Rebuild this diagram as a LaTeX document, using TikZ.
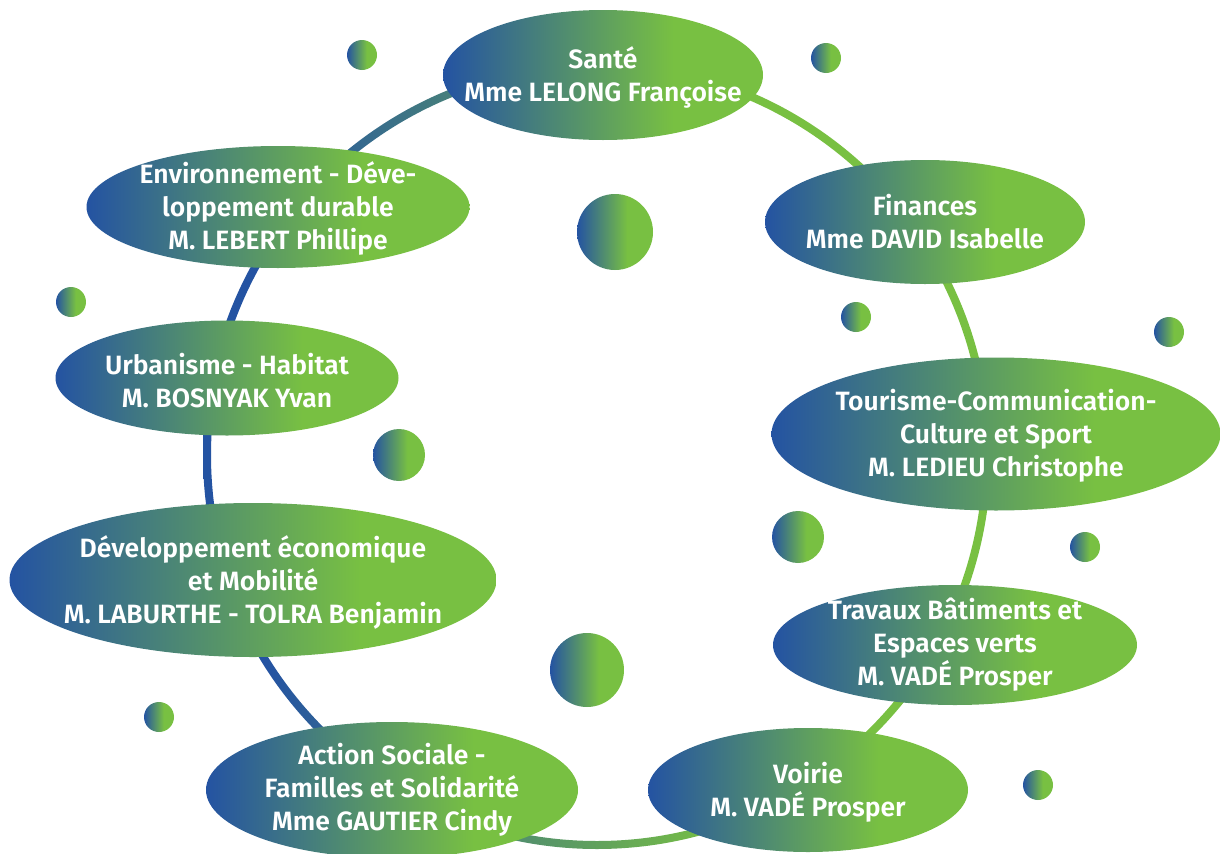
\documentclass[tikz,border=0pt]{standalone}
\usepackage{fontspec}
\setmainfont{Fira Sans}[BoldFont={Fira Sans SemiBold}]
\usetikzlibrary{shapes.geometric}
\definecolor{myblue}{RGB}{36,83,162}
\definecolor{mygreen}{RGB}{120,192,66}
\pgfdeclarehorizontalshading{ellsh}{100bp}{color(0bp)=(myblue); color(25bp)=(myblue); color(61bp)=(mygreen); color(100bp)=(mygreen)}
\pgfdeclarehorizontalshading{bubsh}{100bp}{color(0bp)=(myblue); color(25bp)=(myblue); color(58bp)=(mygreen); color(100bp)=(mygreen)}
\pgfdeclarehorizontalshading{ringsh}{100bp}{color(0bp)=(myblue); color(29bp)=(myblue); color(58bp)=(mygreen); color(100bp)=(mygreen)}
\tikzset{
  ell/.style={ellipse, shade, shading=ellsh, inner sep=0pt, outer sep=0pt},
  elltext/.style={inner sep=0pt, text=white, align=center,
    font=\fontsize{26.5}{33}\selectfont\bfseries},
  bubble/.style={shade, shading=bubsh}
}
\begin{document}
\begin{tikzpicture}[x=1pt,y=-1pt]
\useasboundingbox (0,0) rectangle (1221,854);
% ring
\coordinate (rc) at (597,455);
\shade[shading=ringsh, even odd rule] (rc) circle (394pt) (rc) circle (386pt);
% bubbles
\foreach \x/\y/\r [count=\i] in {362/55/15, 826/58/15, 615/232/38, 71/302/15, 856/317/15, 1169/332/15, 399/455/26, 798/537/26, 1085/547/15, 587/670/37, 159/717/15, 1038/785/15}
  \shade[bubble] (\x,\y) circle (\r pt);
% ellipses
\node[ell, minimum width=320pt, minimum height=130pt] (sante) at (603,75) {};
\node[elltext] (santeT) at ([yshift=-2pt]sante.center) {Santé\\Mme LELONG Françoise};
\node[ell, minimum width=320pt, minimum height=124pt] (fin) at (925,222) {};
\node[elltext] (finT) at (fin.center) {Finances\\Mme DAVID Isabelle};
\node[ell, minimum width=449pt, minimum height=153pt] (tour) at (996,434) {};
\node[elltext] (tourT) at ([yshift=-2pt]tour.center) {Tourisme-Communication-\\Culture et Sport\\M. LEDIEU Christophe};
\node[ell, minimum width=364pt, minimum height=120pt] (trav) at (955,645) {};
\node[elltext] (travT) at (trav.center) {Travaux Bâtiments et\\Espaces verts\\M. VADÉ Prosper};
\node[ell, minimum width=320pt, minimum height=124pt] (voirie) at (808,790) {};
\node[elltext] (voirieT) at ([yshift=-2pt]voirie.center) {Voirie\\M. VADÉ Prosper};
\node[ell, minimum width=372pt, minimum height=136pt] (action) at (392,790) {};
\node[elltext] (actionT) at (action.center) {Action Sociale -\\Familles et Solidarité\\Mme GAUTIER Cindy};
\node[ell, minimum width=487pt, minimum height=154pt] (dev) at (253,580) {};
\node[elltext] (devT) at ([yshift=-2pt]dev.center) {Développement économique\\et Mobilité\\M. LABURTHE - TOLRA Benjamin};
\node[ell, minimum width=343pt, minimum height=115pt] (urb) at (227,378) {};
\node[elltext] (urbT) at ([yshift=-3pt]urb.center) {Urbanisme - Habitat\\M. BOSNYAK Yvan};
\node[ell, minimum width=383pt, minimum height=122pt] (env) at (278,207) {};
\node[elltext] (envT) at ([yshift=-1pt]env.center) {Environnement - Déve-\\loppement durable\\M. LEBERT Phillipe};
\end{tikzpicture}
\end{document}
